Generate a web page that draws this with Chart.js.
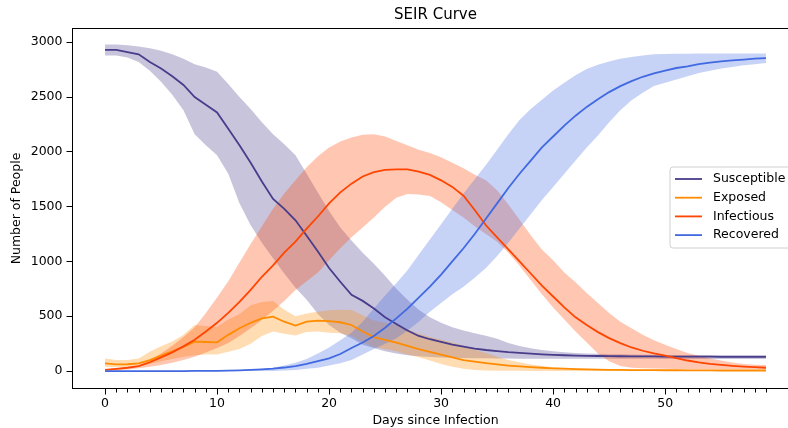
<!DOCTYPE html>
<html><head><meta charset="utf-8">
<script src="https://cdn.jsdelivr.net/npm/chart.js@4.4.0/dist/chart.umd.min.js"></script>
<style>
html,body{margin:0;padding:0;background:#fff;overflow:hidden;width:788px;height:428px}
#wrap{position:absolute;left:0;top:0;width:812px;height:428px}
</style>
</head><body>
<div id="wrap"><canvas id="c" width="812" height="428"></canvas></div>
<script>
const days = [0,1,2,3,4,5,6,7,8,9,10,11,12,13,14,15,16,17,18,19,20,21,22,23,24,25,26,27,28,29,30,31,32,33,34,35,36,37,38,39,40,41,42,43,44,45,46,47,48,49,50,51,52,53,54,55,56,57,58,59];
const xTickLabels = [0,10,20,30,40,50];
const yTicks = [0,500,1000,1500,2000,2500,3000];
const seriesNames = ['Susceptible','Exposed','Infectious','Recovered'];
const seriesColors = ['#483D8B','#FF8C00','#FF4500','#4169E1'];

const susceptible = [2930,2930,2910,2890,2820,2760,2690,2610,2500,2430,2360,2210,2060,1900,1730,1570,1480,1375,1235,1090,940,815,695,640,570,490,430,370,320,290,265,240,222,205,192,182,172,165,158,152,147,144,141,139,137,136,135,134,133,133,132,132,131,131,131,130,130,130,130,130];
const susceptibleUpper = [2980,2980,2972,2962,2945,2922,2890,2850,2800,2770,2730,2620,2500,2390,2270,2160,2070,1970,1800,1630,1460,1310,1190,1080,980,870,750,650,560,490,440,400,370,345,322,295,255,228,208,192,180,172,165,160,157,154,152,150,149,148,147,147,146,146,146,146,146,146,146,146];
const susceptibleLower = [2880,2880,2860,2820,2740,2640,2520,2380,2160,2060,1970,1800,1530,1330,1170,1030,890,760,650,520,420,350,300,240,210,180,160,145,135,128,124,121,119,117,116,115,114,113,113,112,112,112,112,111,111,111,111,111,111,111,110,110,110,110,110,110,110,110,110,110];

const exposed = [70,60,62,70,100,140,180,220,268,265,262,330,390,440,480,496,450,415,450,460,455,445,420,360,310,285,260,230,200,175,150,125,100,85,72,60,50,42,35,30,25,21,18,15,13,11,10,9,8,8,7,7,6,6,6,5,5,5,5,5];
const exposedUpper = [115,100,100,115,175,225,270,330,420,410,404,470,520,600,630,640,560,500,525,540,555,560,556,510,460,440,420,380,340,310,285,260,230,195,165,130,100,80,60,45,35,28,24,20,18,17,16,15,15,15,15,15,15,15,15,15,15,15,15,15];
const exposedLower = [40,35,35,40,65,90,110,130,145,150,150,175,200,250,320,360,340,325,355,360,350,345,320,260,220,200,180,150,125,95,65,40,20,10,5,3,2,2,1,1,1,1,1,1,1,1,1,1,1,1,1,1,1,1,1,1,1,1,1,1];

const infectious = [10,20,30,45,80,125,170,225,285,360,440,530,630,740,860,965,1080,1180,1300,1410,1530,1630,1710,1775,1815,1835,1840,1840,1820,1790,1740,1680,1600,1470,1330,1220,1110,1000,890,780,680,580,490,420,355,300,255,215,185,160,140,118,96,79,66,56,47,40,35,30];
const infectiousUpper = [15,25,35,50,100,160,230,310,400,530,670,820,990,1160,1320,1480,1620,1740,1860,1960,2040,2095,2130,2155,2160,2140,2100,2060,2020,1990,1950,1900,1850,1790,1740,1650,1520,1380,1240,1110,1010,900,810,711,620,530,450,390,330,280,240,200,165,140,115,95,78,65,58,55];
const infectiousLower = [3,8,15,25,40,55,75,100,130,170,210,255,320,390,465,550,640,740,820,900,1010,1120,1220,1310,1400,1500,1580,1615,1610,1597,1540,1470,1400,1320,1250,1180,1080,960,830,700,580,470,360,260,160,90,45,30,25,22,20,19,18,18,18,18,18,18,18,18];

const recovered = [0,0,0,0,0,0,0,0,1,1,2,4,6,10,15,22,32,45,65,90,115,155,210,260,320,395,480,570,670,770,880,1000,1120,1250,1390,1530,1670,1800,1920,2040,2140,2240,2330,2410,2480,2545,2600,2645,2685,2715,2740,2765,2780,2800,2815,2825,2835,2842,2850,2855];
const recoveredUpper = [0,0,0,0,0,0,0,1,2,3,5,7,10,15,20,30,50,75,110,160,215,280,350,450,570,690,800,920,1060,1200,1340,1480,1620,1750,1880,2020,2160,2290,2390,2475,2560,2630,2700,2755,2795,2825,2850,2865,2880,2890,2893,2895,2896,2897,2897,2897,2897,2897,2897,2897];
const recoveredLower = [0,0,0,0,0,0,0,0,0,0,0,0,0,0,0,0,5,10,20,30,50,70,100,150,200,250,300,370,450,540,620,700,770,850,940,1050,1170,1300,1430,1560,1680,1800,1920,2040,2150,2270,2380,2470,2540,2600,2630,2660,2690,2720,2740,2760,2775,2790,2800,2810];

const means = [susceptible, exposed, infectious, recovered];
const uppers = [susceptibleUpper, exposedUpper, infectiousUpper, recoveredUpper];
const lowers = [susceptibleLower, exposedLower, infectiousLower, recoveredLower];

function rgba(hex, a){
  const n = parseInt(hex.slice(1),16);
  return `rgba(${(n>>16)&255},${(n>>8)&255},${n&255},${a})`;
}
const pts = arr => arr.map((v,i)=>({x:days[i], y:v}));

const datasets = [];
for (let s=0; s<4; s++){
  datasets.push({label: seriesNames[s]+' upper', data: pts(uppers[s]), borderWidth:0, borderColor:'rgba(0,0,0,0)',
    backgroundColor: rgba(seriesColors[s],0.3), pointRadius:0, fill:'+1', tension:0, order: 10-s});
  datasets.push({label: seriesNames[s]+' lower', data: pts(lowers[s]), borderWidth:0, borderColor:'rgba(0,0,0,0)',
    backgroundColor:'rgba(0,0,0,0)', pointRadius:0, fill:false, tension:0, order: 20});
}
for (let s=0; s<4; s++){
  datasets.push({label: seriesNames[s], data: pts(means[s]), borderWidth:1.8, borderColor: seriesColors[s],
    backgroundColor: seriesColors[s], pointRadius:0, fill:false, tension:0, order: 4-s});
}

const FONT = 'DejaVu Sans';
Chart.defaults.font.family = FONT;
Chart.defaults.font.size = 12.5;
Chart.defaults.color = '#000';

const decor = {
  id:'decor',
  afterDatasetsDraw(chart){
    const {ctx, chartArea:a} = chart;
    ctx.save();
    ctx.strokeStyle = '#000';
    ctx.lineWidth = 1;
    ctx.strokeRect(Math.round(a.left)+0.5, Math.round(a.top)+0.5, Math.round(a.right-a.left), Math.round(a.bottom-a.top)-1);
    // minor ticks on x axis (shorter than major ones)
    const xs = chart.scales.x;
    const yb = Math.round(a.bottom);
    ctx.beginPath();
    for (const d of days){
      if (xTickLabels.includes(d)) continue;
      const px = Math.round(xs.getPixelForValue(d)) + 0.5;
      ctx.moveTo(px, yb); ctx.lineTo(px, yb + 3.5);
    }
    ctx.stroke();
    ctx.restore();
  },
  afterDraw(chart){
    const {ctx, chartArea:a} = chart;
    ctx.save();
    ctx.fillStyle = '#000';
    ctx.font = `15px "${FONT}"`;
    ctx.textAlign = 'center';
    ctx.textBaseline = 'middle';
    ctx.fillText('SEIR Curve', (a.left+a.right)/2, 15);
    const bx = 670, by = 167, bw = 122, bh = 81, r = 3;
    ctx.beginPath();
    ctx.moveTo(bx+r, by); ctx.lineTo(bx+bw-r, by); ctx.arcTo(bx+bw, by, bx+bw, by+r, r);
    ctx.lineTo(bx+bw, by+bh-r); ctx.arcTo(bx+bw, by+bh, bx+bw-r, by+bh, r);
    ctx.lineTo(bx+r, by+bh); ctx.arcTo(bx, by+bh, bx, by+bh-r, r);
    ctx.lineTo(bx, by+r); ctx.arcTo(bx, by, bx+r, by, r);
    ctx.closePath();
    ctx.fillStyle = 'rgba(255,255,255,0.8)';
    ctx.fill();
    ctx.strokeStyle = '#d0d0d0';
    ctx.lineWidth = 1;
    ctx.stroke();
    ctx.font = `12.5px "${FONT}"`;
    ctx.textAlign = 'left';
    for (let s=0; s<4; s++){
      const y = 179 + s*18.7;
      ctx.strokeStyle = seriesColors[s];
      ctx.lineWidth = 1.8;
      ctx.beginPath(); ctx.moveTo(675, y); ctx.lineTo(702, y); ctx.stroke();
      ctx.fillStyle = '#000';
      ctx.fillText(seriesNames[s], 713, y);
    }
    ctx.restore();
  }
};

new Chart(document.getElementById('c'), {
  type:'line',
  data:{datasets},
  options:{
    responsive:false,
    animation:false,
    devicePixelRatio:1,
    layout:{padding:{top:28,left:0,right:13,bottom:0}},
    plugins:{legend:{display:false}, tooltip:{enabled:false}, title:{display:false},
      filler:{drawTime:'beforeDatasetsDraw', propagate:false}},
    scales:{
      x:{type:'linear', min:-2.95, max:61.95,
        afterBuildTicks: s => { s.ticks = xTickLabels.map(v=>({value:v})); },
        afterFit: s => { s.height = 39; },
        ticks:{autoSkip:false, maxRotation:0, padding:2, color:'#000', callback: v => String(v)},
        grid:{display:true, drawOnChartArea:false, drawTicks:true, tickLength:5.5, color:'#000'},
        border:{display:false},
        title:{display:true, text:'Days since Infection', padding:{top:0,bottom:0}, color:'#000'}
      },
      y:{type:'linear', min:-164, max:3130,
        afterBuildTicks: s => { s.ticks = yTicks.map(v=>({value:v})); },
        afterFit: s => { s.width = 72; },
        ticks:{padding:4, color:'#000', callback: v => String(v)},
        grid:{display:true, drawOnChartArea:false, drawTicks:true, tickLength:5.5, color:'#000'},
        border:{display:false},
        title:{display:true, text:'Number of People', padding:{top:9.5,bottom:0}, color:'#000'}
      }
    }
  },
  plugins:[decor]
});
</script>
</body></html>
